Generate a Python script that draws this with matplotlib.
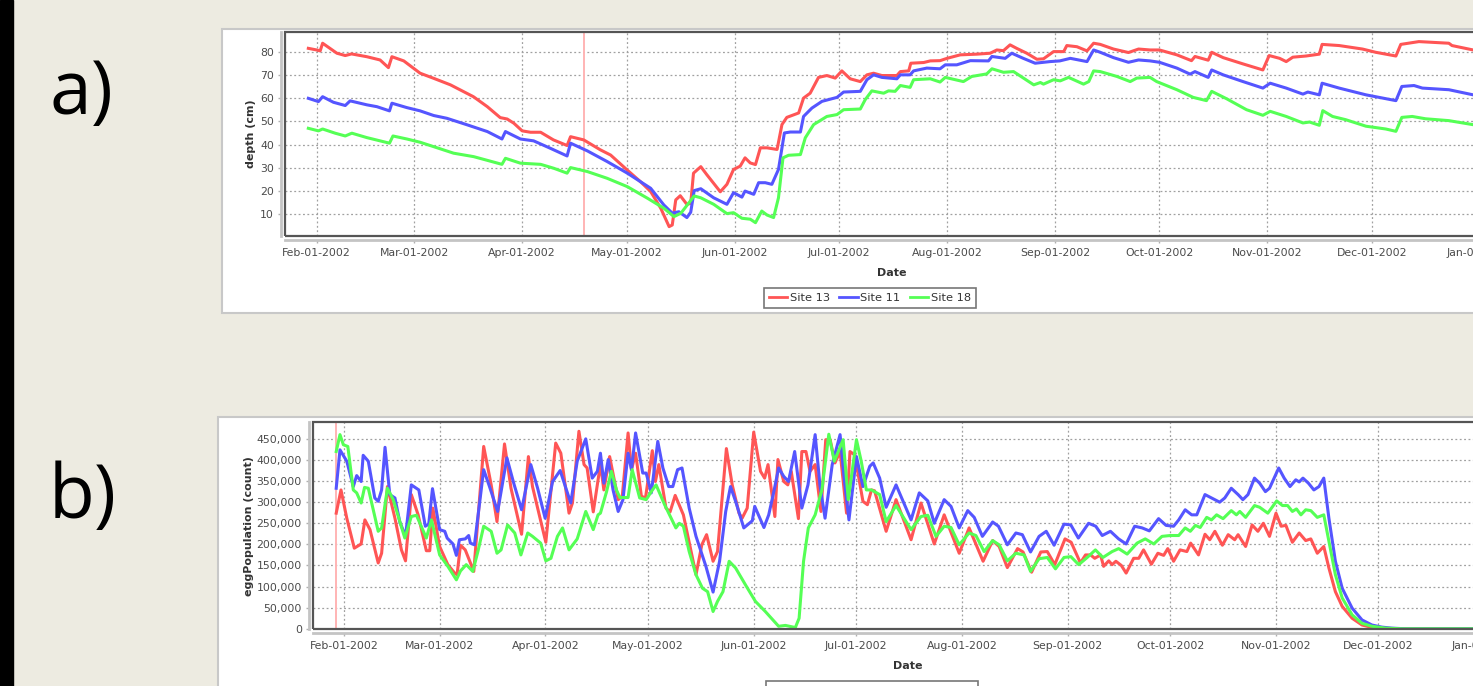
import datetime as dt

import matplotlib
matplotlib.use("Agg")
import matplotlib.dates as mdates
import matplotlib.pyplot as plt
import numpy as np
from matplotlib.patches import Rectangle
from matplotlib.ticker import FuncFormatter, MultipleLocator

plt.rcParams["font.family"] = ["DejaVu Sans"]

# (days after Jan-01-2002, depth in cm)
site13_depth = [(28.6, 81.4), (31, 80.7), (32, 80.3), (32.7, 83.6), (36.8, 79.3), (39.2, 78.3), (41, 79), (45.4, 77.8),
                (49.2, 76.4), (51.6, 73.1), (52.6, 77.8), (56, 76), (60.7, 70.7), (64.6, 68.5), (69.4, 65.7), (76, 60.6),
                (80, 56.3), (83.7, 51.6), (85.7, 51), (87.6, 49.2), (90, 45.9), (92.4, 45.3), (95.3, 45.3), (99, 42),
                (102.9, 39.6), (103.9, 43.4), (107.7, 42), (112.5, 37.7), (115.4, 35.5), (120.2, 29), (124, 24),
                (126.9, 19.8), (129.8, 12.6), (132.2, 4.7), (133.1, 5.4), (134.1, 16.2), (135.4, 18), (137.3, 14.3),
                (138.4, 14.7), (139.2, 27.7), (141.3, 30.5), (143, 27.1), (146.9, 19.7), (148.8, 22.9), (150.7, 29.3),
                (152.6, 30.7), (154, 34.3), (155.5, 32.1), (157, 31.4), (158.4, 38.6), (160.3, 38.6), (163.2, 37.9),
                (164.6, 48.6), (166, 51.7), (169.4, 53.6), (170.8, 60), (172.7, 62.1), (175.1, 68.9), (177.5, 69.7),
                (179.9, 68.6), (181.8, 71.7), (184.2, 68.3), (187.1, 67.1), (189, 70), (190.9, 70.7), (193.3, 69.7),
                (197.6, 69.7), (198.6, 71.4), (201, 71.7), (201.6, 75), (205.3, 75.3), (207.2, 76), (210, 76.1),
                (212, 77.1), (215.8, 78.6), (220.6, 78.9), (224.4, 79.3), (226.3, 80.7), (228.2, 80.4), (230.1, 82.9),
                (232, 81.4), (234.9, 79.3), (237.8, 76.7), (239.7, 76.9), (242.6, 80), (245.5, 80), (246.4, 82.6),
                (249.3, 82.1), (252.2, 80.3), (254.1, 83.6), (256, 83.1), (259.8, 81.1), (264.1, 79.6), (267, 81.1),
                (270.3, 80.7), (273, 80.7), (278, 78.6), (282.2, 76.1), (283.2, 77.9), (287, 76.3), (288, 79.7),
                (291.3, 77.4), (297, 74.7), (302.7, 72.1), (304.5, 78.3), (307.5, 77.1), (309.4, 75.7), (311.3, 77.6),
                (315.1, 78.1), (318.9, 78.9), (319.7, 83.1), (324.6, 82.6), (331.3, 81.1), (335.1, 79.7), (340.9, 78.1),
                (342.3, 83.1), (347.5, 84.3), (356.1, 83.6), (357, 82.6), (363.7, 80.5)]
site11_depth = [(28.6, 59.9), (31.5, 58.5), (32.7, 60.6), (35.8, 58.2), (39.2, 56.8), (40.6, 58.8), (45.4, 57.1),
                (48.3, 56.3), (51.9, 54.5), (52.6, 57.8), (56.9, 55.9), (60.7, 54.5), (64.6, 52.5), (68.4, 51.3),
                (74.2, 48.5), (80, 45.6), (84.2, 42.4), (85.2, 45.6), (89.5, 42.4), (93.3, 41.6), (98.1, 38.4),
                (102.9, 35.1), (103.9, 40.6), (108.7, 37.3), (114.4, 32.7), (120.2, 27.7), (126.9, 21.2), (130.7, 14),
                (133.1, 10.5), (135, 11.1), (137.3, 8.6), (138.4, 10.9), (139.4, 20.2), (141.3, 21), (145, 17.1),
                (148.8, 14.3), (150.7, 19.3), (153.1, 17.4), (154, 20), (156.5, 18.6), (157.9, 23.6), (159.8, 23.6),
                (161.7, 22.9), (163.6, 29.3), (165.3, 45), (167, 45.4), (169.9, 45.4), (170.8, 52.1), (173.2, 55.7),
                (176.1, 58.6), (180.4, 60.3), (182.3, 62.6), (187.1, 62.9), (189, 67.9), (190.9, 70), (193.3, 68.9),
                (197.6, 68.3), (198.6, 70), (201.4, 70), (202.4, 71.7), (206.2, 72.9), (210, 72.6), (211.5, 74.3),
                (214.8, 74.3), (218.7, 76.1), (223.9, 76), (224.9, 77.9), (228.7, 77.1), (230.6, 79.3), (233.9, 77.1),
                (237.3, 75), (241.6, 75.7), (244.4, 76), (247.4, 77.1), (252.2, 75.7), (254.1, 80.7), (256, 79.7),
                (259.8, 77.4), (264.1, 75.4), (267, 76.4), (270.3, 76), (273, 75.4), (278, 72.9), (281.8, 70.3),
                (283.2, 71.4), (287, 68.9), (288, 72.1), (291.3, 70), (297, 67.1), (302.7, 64.3), (304.8, 66.4),
                (309.4, 64.3), (314.2, 61.7), (315.6, 62.6), (318.9, 61.4), (319.7, 66.4), (324.6, 64.3), (332.3, 61.4),
                (340.9, 58.9), (342.6, 65), (346.1, 65.4), (348.5, 64.3), (356.1, 63.6), (363.7, 61.2)]
site18_depth = [(28.6, 47), (31.5, 45.9), (32.7, 46.7), (36.3, 44.9), (39.2, 43.7), (41.1, 44.9), (45.4, 43),
                (49.2, 41.6), (51.9, 40.6), (52.9, 43.7), (56.9, 42.4), (60.7, 41), (64.6, 39.1), (70.3, 36.3),
                (76.1, 34.8), (84.2, 31.5), (85.2, 34.1), (89.5, 32), (95.3, 31.5), (99.1, 29.8), (102.9, 27.7),
                (103.9, 30.1), (108.7, 28.4), (114.4, 25.5), (120.2, 21.9), (126, 16.9), (130.7, 12.6), (133.6, 9),
                (135.6, 10.5), (139.4, 17.9), (141.3, 17.1), (145, 14.3), (148.8, 10.3), (150.7, 10.7), (153.1, 8.3),
                (155.5, 7.9), (157, 6.4), (158.8, 11.4), (160.3, 9.7), (162.2, 8.6), (163.6, 17.1), (164.9, 34.3),
                (166.5, 35.4), (169.9, 35.7), (171.3, 42.9), (173.7, 48.6), (177.5, 52.1), (180.4, 52.9), (182.3, 55),
                (187.1, 55.3), (188.5, 59.3), (190.4, 63.1), (193.8, 62.1), (195.2, 63.1), (197.1, 62.9), (198.6, 65.4),
                (201.4, 64.6), (202.4, 67.9), (207.2, 68.3), (210, 66.9), (211.5, 68.9), (216.7, 67.1), (219.1, 69.3),
                (223.4, 70.4), (224.9, 72.6), (228.2, 71.1), (231.1, 71.4), (236.9, 65.7), (238.8, 66.7), (239.7, 66),
                (242.6, 67.9), (244.5, 67.4), (246.9, 68.9), (251.2, 66), (252.7, 67.1), (254.1, 71.7), (256, 71.4),
                (260.8, 69.3), (264.6, 67.1), (266.5, 68.6), (270.3, 68.9), (272.2, 67.1), (278, 63.6), (282.7, 60.3),
                (286.5, 58.9), (288, 62.9), (292.3, 59.7), (298, 55), (302.7, 52.6), (304.8, 54.3), (309.4, 52.1),
                (314.2, 49.3), (316.1, 49.7), (318.9, 48.3), (319.9, 54.6), (322.7, 52.1), (326.5, 50.7), (332.3, 47.9),
                (338, 46.7), (340.9, 45.7), (342.6, 51.7), (345.6, 52.1), (349.4, 51.1), (356.1, 50.3), (363.7, 48.4)]

# (days after Jan-01-2002, egg population in thousands)
site13_eggs_k = [(28.7, 274), (30.1, 329), (31.8, 262), (34, 191), (36, 201), (37.1, 258), (38.6, 235), (41, 156),
                 (42, 179), (43.7, 337), (45.9, 262), (47.8, 187), (49, 161), (50.7, 318), (52.7, 270), (55.1, 185),
                 (56.1, 185), (57, 286), (59, 195), (61.4, 152), (63.4, 132), (64.1, 128), (65.1, 198), (66.5, 187),
                 (69, 136), (71.9, 432), (74.1, 341), (75.8, 254), (78, 438), (79.9, 333), (83, 224), (85, 408),
                 (86.2, 337), (90.1, 205), (93, 440), (94.5, 416), (96.9, 274), (97.9, 298), (99.8, 468), (101.3, 389),
                 (102.2, 381), (104, 277), (106.1, 390), (107.1, 329), (108.8, 408), (111.3, 306), (112.5, 314),
                 (114.2, 464), (115.2, 377), (116.4, 416), (118.1, 314), (119.3, 310), (121.3, 422), (122.2, 349),
                 (123.2, 389), (125.3, 286), (126.5, 277), (128, 316), (130.4, 270), (134.1, 128), (135.8, 199),
                 (137.2, 223), (139.1, 160), (140.4, 183), (143, 427), (144.7, 341), (146.7, 274), (147.6, 262),
                 (149.1, 286), (151, 466), (153, 373), (154.2, 357), (155.2, 389), (157.2, 266), (158.1, 401),
                 (159.8, 349), (161, 341), (162, 373), (164.1, 261), (165.1, 420), (166.3, 420), (167.5, 373),
                 (169, 389), (170.7, 278), (172.1, 448), (173.4, 448), (174.8, 393), (176.3, 420), (178.2, 274),
                 (179.2, 420), (180.6, 412), (183, 302), (184.3, 294), (185.5, 329), (186.4, 327), (189.8, 231),
                 (192.7, 306), (197.1, 211), (200, 298), (203.9, 201), (206.8, 270), (211.2, 179), (214.1, 239),
                 (218.2, 160), (221, 209), (222.9, 195), (225.3, 145), (228.3, 190), (229.9, 182), (232.4, 134),
                 (235.1, 182), (237, 183), (239.2, 152), (242.2, 213), (244, 205), (246.7, 156), (248.2, 175),
                 (249.7, 175), (250.9, 167), (252.6, 175), (253.5, 148), (255, 161), (256, 152), (257.1, 160),
                 (258.7, 150), (260.1, 132), (262.3, 167), (263.8, 167), (265.2, 187), (267.5, 153), (269.4, 179),
                 (271.1, 174), (272.3, 190), (274, 160), (275.9, 187), (277.9, 183), (279, 203), (281.3, 175),
                 (283.2, 224), (284.6, 211), (286.1, 231), (288.3, 198), (290, 223), (291.9, 211), (292.9, 223),
                 (295.1, 195), (297, 246), (298.7, 231), (300.3, 250), (302.1, 219), (304, 274), (305.5, 243),
                 (306.9, 245), (308.8, 205), (310.8, 227), (312.7, 209), (314.2, 213), (316.1, 179), (318, 195),
                 (319.5, 144), (321.4, 88), (323.4, 53), (326.3, 25), (329.2, 9), (333, 1.6), (340, 0), (363.7, 0)]
site11_eggs_k = [(28.7, 333), (29.8, 424), (31.8, 397), (33.7, 337), (34.7, 363), (36, 349), (36.6, 411), (38.1, 397),
                 (40, 310), (41, 302), (42, 329), (43, 430), (44.4, 318), (45.9, 310), (47.3, 254), (49, 219),
                 (50.7, 341), (52.9, 329), (54.8, 243), (55.8, 248), (56.9, 332), (59, 235), (60.5, 231), (61.2, 215),
                 (62.9, 201), (63.9, 174), (64.8, 211), (66.5, 213), (67.5, 221), (68, 203), (69.2, 199), (71.9, 377),
                 (73.6, 337), (76, 278), (78.7, 405), (80.7, 345), (83, 282), (85.7, 389), (87.7, 333), (89.9, 262),
                 (92.1, 349), (94.3, 375), (97.4, 298), (99.3, 397), (101.8, 450), (103.7, 357), (105.2, 373),
                 (106.1, 416), (107.1, 345), (108.4, 401), (109.8, 329), (111.3, 278), (112.7, 306), (114.2, 416),
                 (115.2, 377), (116.4, 464), (118.5, 369), (119.5, 369), (121, 322), (122.9, 444), (124.4, 381),
                 (126.1, 337), (127.3, 337), (128.7, 377), (130, 381), (132.1, 286), (134.1, 219), (137, 148),
                 (139.1, 87), (141, 160), (142.8, 278), (144.2, 337), (145.7, 302), (148.1, 239), (150.6, 256),
                 (151.3, 290), (154, 240), (155.4, 270), (156.9, 325), (158.3, 381), (159.8, 361), (161.2, 349),
                 (163, 420), (165.1, 286), (166.9, 341), (169, 460), (170.4, 341), (171.9, 262), (174, 389),
                 (176.3, 460), (177.5, 357), (178.9, 258), (181.1, 408), (183, 337), (185, 385), (186, 393),
                 (187.9, 357), (189.8, 288), (192.7, 341), (197.1, 258), (199.5, 322), (202, 303), (203.9, 250),
                 (206.8, 306), (208.8, 290), (211.2, 239), (213.7, 280), (215.6, 264), (218, 219), (221, 253),
                 (222.7, 243), (225.3, 199), (227.8, 227), (229.7, 223), (232.1, 182), (234.6, 219), (236.7, 231),
                 (239, 198), (241.9, 248), (243.9, 246), (246.1, 215), (249.1, 250), (251.2, 243), (253.1, 221),
                 (255.5, 231), (257.9, 213), (260.1, 201), (262.6, 243), (264.8, 239), (266.9, 232), (269.6, 261),
                 (271.8, 245), (274, 243), (275.5, 258), (277.4, 282), (279.3, 270), (280.8, 270), (283.2, 318),
                 (285.1, 310), (287.5, 300), (289, 310), (290.9, 333), (292.9, 318), (294.3, 306), (295.8, 318),
                 (297.7, 357), (299.2, 345), (300.9, 325), (302.1, 333), (304.8, 381), (306.4, 357), (308.1, 337),
                 (309.8, 353), (310.8, 348), (311.9, 357), (313.5, 345), (315.1, 329), (316.6, 337), (318, 357),
                 (319.5, 262), (321.4, 160), (323.4, 96), (326.3, 49), (329.2, 21), (332.1, 9), (335, 4),
                 (337.9, 1.6), (342, 0), (363.7, 0)]
site18_eggs_k = [(28.7, 420), (29.8, 460), (30.8, 436), (32.1, 432), (33.7, 329), (34.7, 322), (36, 298), (37, 335),
                 (38.1, 333), (41, 231), (42, 239), (43.7, 333), (45.4, 306), (48.8, 215), (50.7, 266), (52.2, 269),
                 (55.1, 215), (56.6, 258), (59, 175), (61.4, 148), (63.9, 116), (65.1, 137), (66.8, 152), (68.7, 136),
                 (70.2, 183), (71.9, 243), (74.1, 231), (75.8, 179), (77, 187), (78.9, 246), (81, 227), (82.8, 175),
                 (84.8, 227), (86.2, 219), (88.6, 203), (90.1, 161), (91.6, 167), (93.5, 219), (95, 239), (96.9, 187),
                 (99.3, 213), (101.8, 278), (104, 235), (105.4, 270), (106.1, 274), (107.9, 325), (109.3, 373),
                 (110.8, 329), (111.8, 311), (114.2, 311), (115.4, 377), (117.6, 310), (119.5, 306), (121, 325),
                 (122.4, 341), (124.9, 294), (126.8, 262), (128.2, 239), (129.2, 250), (130.4, 243), (132.1, 183),
                 (134.1, 128), (136, 96), (137.5, 88), (139.1, 41), (140.4, 65), (142, 88), (143.8, 160), (145.7, 144),
                 (148.6, 104), (151.5, 65), (154.4, 41), (158.3, 6), (160.3, 8), (163.2, 3), (164.3, 25), (165.6, 160),
                 (167, 239), (169, 270), (171, 330), (173, 461), (174.6, 397), (177.2, 448), (178.7, 306), (181.1, 448),
                 (182.5, 397), (184, 329), (185.5, 329), (187.9, 318), (189.8, 254), (192.7, 292), (197.1, 235),
                 (200, 266), (202, 269), (204.4, 219), (206.8, 243), (208.8, 240), (211.2, 199), (214.1, 227),
                 (216.1, 221), (218.5, 183), (221, 209), (222.9, 199), (225.3, 161), (227.8, 179), (230.2, 175),
                 (232.1, 136), (234.6, 166), (237, 169), (239.4, 142), (241.9, 169), (243.9, 171), (246.2, 152),
                 (248.7, 169), (251.1, 187), (253.3, 169), (256, 183), (257.9, 190), (260.4, 177), (263.3, 203),
                 (265.7, 213), (268.2, 201), (270.6, 219), (273, 221), (275.5, 221), (277.4, 239), (278.9, 231),
                 (280.4, 245), (281.8, 240), (283.7, 264), (285.1, 258), (286.6, 270), (288.5, 261), (290.9, 280),
                 (292.4, 270), (293.4, 278), (295.1, 264), (297.7, 292), (299.2, 288), (301.6, 274), (304.2, 303),
                 (305.9, 292), (307.4, 292), (308.8, 278), (310, 284), (311.3, 270), (312.7, 282), (314.2, 280),
                 (316.1, 264), (318, 270), (319.5, 207), (321.4, 128), (323.4, 73), (326.3, 33), (329.2, 13),
                 (332.1, 6), (336, 1.6), (341, 0), (363.7, 0)]

site_names = ["Site 13", "Site 11", "Site 18"]
site_colors = ["#FF5555", "#5555FF", "#55FF55"]
marker_day_a = 107.8
marker_day_b = 28.7

W, H = 1473, 686
BASE = mdates.date2num(dt.datetime(2002, 1, 1))


def fx(px):
    return px / W


def fy(py):
    return 1 - py / H


def panel_box(left, top, right, bottom):
    return Rectangle((fx(left), fy(bottom)), (right - left) / W, (bottom - top) / H,
                     transform=fig.transFigure, facecolor="white", edgecolor="#C8C8C8", lw=1.5, zorder=-2)


def setup(ax, series, scale, marker_day, ylim, ystep, ylabel, ylabel_x, xlabel_y):
    for data, name, color in zip(series, site_names, site_colors):
        arr = np.array(data, dtype=float)
        ax.plot(BASE + arr[:, 0], arr[:, 1] * scale, color=color, lw=2.2, label=name, zorder=3)
    ax.axvline(BASE + marker_day, color="#FFB4B4", lw=1.4, zorder=2)
    ax.set_xlim(BASE + 21.9, BASE + 370.5)
    ax.set_ylim(*ylim)
    ax.xaxis.set_major_locator(mdates.MonthLocator())
    ax.xaxis.set_major_formatter(mdates.DateFormatter("%b-%d-%Y"))
    ax.yaxis.set_major_locator(MultipleLocator(ystep))
    ax.grid(True, color="#A0A0A0", linestyle=(0, (1.5, 2)), lw=0.9)
    ax.set_axisbelow(True)
    for side in ["top", "right"]:
        ax.spines[side].set_visible(False)
    for side in ["left", "bottom"]:
        ax.spines[side].set_position(("outward", 3))
        ax.spines[side].set_color("#C4C4C4")
        ax.spines[side].set_linewidth(2)
    ax.add_patch(Rectangle((0, 0), 1, 1, transform=ax.transAxes, fill=False,
                           edgecolor="#555555", lw=1.6, clip_on=False, zorder=5))
    ax.tick_params(length=2.5, width=1, color="#B0B0B0", labelcolor="#4A4A4A", labelsize=7.8, pad=2.5)
    ax.tick_params(axis="x", pad=3.5)
    ax.set_ylabel(ylabel, fontsize=8, fontweight="bold", color="#333333")
    ax.set_xlabel("Date", fontsize=8, fontweight="bold", color="#333333")
    ax.yaxis.set_label_coords(ylabel_x, 0.5)
    ax.xaxis.set_label_coords(0.5, xlabel_y)
    ax.xaxis.label.set_va("center")
    ax.yaxis.label.set_va("center")


fig = plt.figure(figsize=(W / 100, H / 100), dpi=100, facecolor="#EDEBE1")
fig.add_artist(Rectangle((0, 0), fx(13), 1, transform=fig.transFigure, color="black", zorder=-2))
fig.add_artist(panel_box(222, 29, 1530, 313))
fig.add_artist(panel_box(218, 417, 1530, 720))

fig.text(fx(49), fy(114), "a)", fontsize=54, family="Open Sans", color="black")
fig.text(fx(49), fy(518), "b)", fontsize=54, family="Open Sans", color="black")

ax_a = fig.add_axes([fx(285), fy(235.7), (1499 - 285) / W, (235.7 - 32.3) / H])
setup(ax_a, [site13_depth, site11_depth, site18_depth], 1, marker_day_a,
      (0.8, 88.3), 10, "depth (cm)", -0.028, -0.182)

ax_b = fig.add_axes([fx(313), fy(628.8), (1503 - 313) / W, (628.8 - 422.4) / H])
setup(ax_b, [site13_eggs_k, site11_eggs_k, site18_eggs_k], 1000, marker_day_b,
      (0, 489000), 50000, "eggPopulation (count)", -0.054, -0.179)
ax_b.yaxis.set_major_formatter(FuncFormatter(lambda v, p: f"{int(v):,}"))

for ax, cx, top in [(ax_a, 870, 288), (ax_b, 872, 681)]:
    leg = fig.legend(*ax.get_legend_handles_labels(), loc="upper center",
                     bbox_to_anchor=(fx(cx), fy(top)), ncol=3, fontsize=8.2, frameon=True,
                     fancybox=False, edgecolor="#555555", borderpad=0.45, handlelength=1.6,
                     handletextpad=0.25, columnspacing=0.8, borderaxespad=0)
    leg.get_frame().set_linewidth(1.2)
    for line in leg.get_lines():
        line.set_linewidth(2)
    for text in leg.get_texts():
        text.set_color("#333333")

fig.savefig("out.png", dpi=100, facecolor=fig.get_facecolor())
plt.close(fig)
